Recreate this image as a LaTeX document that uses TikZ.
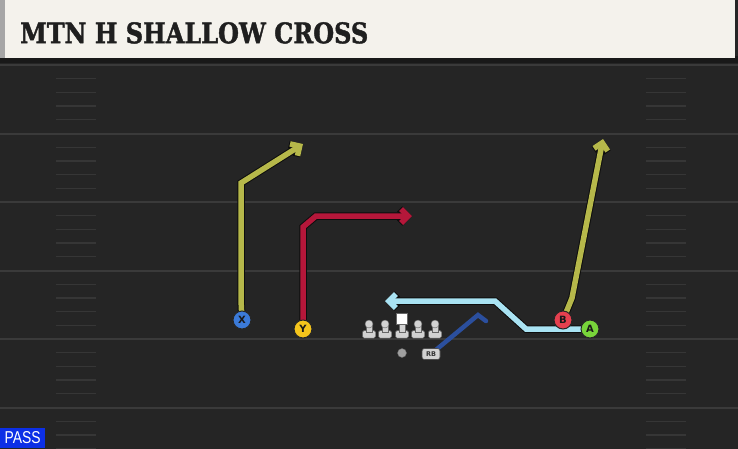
\documentclass[tikz,border=0pt]{standalone}
\usepackage{fontspec}
\usepackage{graphicx}
\setmainfont{DejaVu Sans}
\newfontfamily\titlefont{DejaVu Serif}[UprightFont={* Bold}, FakeBold=1.6]
\newfontfamily\passfont{Liberation Sans}
\usetikzlibrary{arrows.meta}
\definecolor{fieldc}{HTML}{252525}
\definecolor{creamc}{HTML}{F4F2EC}
\definecolor{linec}{HTML}{3A3A3A}
\definecolor{hashc}{HTML}{363636}
\definecolor{olivec}{HTML}{B6B84A}
\definecolor{redr}{HTML}{B5173A}
\definecolor{lblue}{HTML}{A9E3F3}
\definecolor{dblue}{HTML}{2B4F9E}
\definecolor{xblue}{HTML}{3B7AD8}
\definecolor{yyel}{HTML}{F5C51C}
\definecolor{bred}{HTML}{E5404F}
\definecolor{agreen}{HTML}{78D43A}
\definecolor{passblue}{HTML}{0C2FE6}
\definecolor{olc}{HTML}{D2D2D2}
\tikzset{
  yard/.style={linec, line width=2pt},
  hashm/.style={hashc, line width=1.3pt},
  rout/.style={line join=miter},
  tipa/.style={-{Straight Barb[length=7pt,width=14pt]}},
  player/.style={circle, draw=black!85, line width=1pt, minimum size=18pt, inner sep=0pt,
     font=\bfseries\fontsize{10}{10}\selectfont, text=black!90},
  lman/.style={fill=olc, draw=black!60, line width=0.4pt},
}
\newcommand\myroute[3]{%
  \draw[rout, #2, line width=7.5pt, black!95] #3;
  \draw[rout, #2, line width=5.5pt, #1] #3;}
\begin{document}
\begin{tikzpicture}[x=1pt,y=-1pt]
\useasboundingbox (0,0) rectangle (738,448);
\fill[fieldc] (-5,-5) rectangle (743,455);
% header
\fill[black!90] (0,56) rectangle (738,63);
\fill[creamc] (5,0) rectangle (735,58);
\fill[gray!70] (0,0) rectangle (5,58);
\node[anchor=north west, inner sep=0pt, text=black!88] (title) at (20,22)
  {\resizebox{348pt}{21pt}{\titlefont MTN H SHALLOW CROSS}};
% yard lines and hashes
\foreach \y in {65,133.5,202,270.5,339,407.5}
  \draw[yard] (0,\y) -- (738,\y);
\foreach \k in {0,...,5}
  \foreach \j in {1,2,3,4} {
    \pgfmathsetmacro\yy{65+68.5*\k+13.7*\j}
    \draw[hashm] (56,\yy) -- (96,\yy);
    \draw[hashm] (646,\yy) -- (686,\yy);
  }
% player coordinates
\coordinate (Xc) at (242,320);
\coordinate (Yc) at (303,329);
\coordinate (Bc) at (563,320);
\coordinate (Ac) at (590,329);
\coordinate (RBc) at (431,354);
% route points
\coordinate (x1) at (241,183);
\coordinate (x2) at (303,144);
\coordinate (y1) at (303,227);
\coordinate (y2) at (316,216);
\coordinate (y3) at (412,216);
\coordinate (b1) at (572,298);
\coordinate (b2) at (603,139);
\coordinate (a1) at (526,329);
\coordinate (a2) at (495,301);
\coordinate (a3) at (385,301);
\coordinate (r1) at (478,315);
\coordinate (r2) at (486,321);
% routes
\myroute{olivec}{tipa}{(Xc) -- (241,300) -- (x1) -- (x2)}
\myroute{redr}{tipa}{(Yc) -- (y1) -- (y2) -- (y3)}
\myroute{olivec}{tipa}{(Bc) -- (b1) -- (b2)}
\myroute{lblue}{tipa}{(Ac) -- (a1) -- (a2) -- (a3)}
\draw[rout, line width=4.5pt, dblue, line cap=round] (RBc) -- (r1) -- (r2);
% players
\node[player, fill=xblue] (X) at (Xc) {X};
\node[player, fill=yyel] (Y) at (Yc) {Y};
\node[player, fill=bred] (B) at (Bc) {B};
\node[player, fill=agreen] (A) at (Ac) {A};
% line
\foreach \lx in {369,385,418,435} {
  \fill[lman, rounded corners=1.5pt] (\lx-6.5,330.5) rectangle (\lx+6.5,338);
  \fill[lman] (\lx-2.8,324) rectangle (\lx+2.8,332);
  \fill[lman] (\lx,324) circle (4pt);
}
\fill[lman, rounded corners=1.5pt] (395.5,330.5) rectangle (408.5,338);
\fill[lman] (399.2,322) rectangle (404.8,332);
\fill[white, draw=black!60, line width=0.4pt] (396,313) rectangle (407,324);
\node[circle, fill=gray!75, draw=black!60, line width=0.4pt, minimum size=9pt, inner sep=0pt] (QB) at (402,353) {};
\node[rounded corners=2.5pt, fill=olc, draw=black!70, line width=0.6pt, minimum width=18pt, minimum height=11pt, inner sep=0pt,
  font=\fontsize{6.5}{6.5}\selectfont\bfseries, text=black!80] (RB) at (RBc) {RB};
% pass label
\node[fill=passblue, anchor=south west, inner sep=0pt, minimum width=45pt, minimum height=20pt,
  text=white] (pass) at (0,448) {\resizebox{36pt}{12pt}{\passfont PASS}};
\end{tikzpicture}
\end{document}
